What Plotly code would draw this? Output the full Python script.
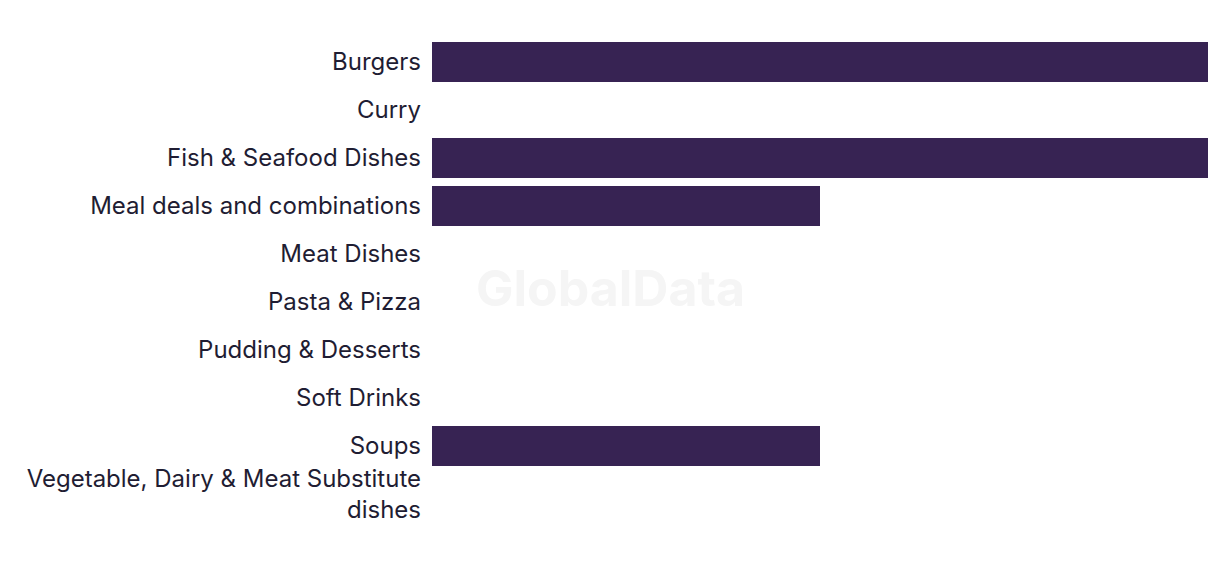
import plotly.graph_objects as go

categories = [
    "Burgers",
    "Curry",
    "Fish & Seafood Dishes",
    "Meal deals and combinations",
    "Meat Dishes",
    "Pasta & Pizza",
    "Pudding & Desserts",
    "Soft Drinks",
    "Soups",
    "Vegetable, Dairy & Meat Substitute<br>dishes",
]
values = [2, 0, 2, 1, 0, 0, 0, 0, 1, 0]

W, H = 1220, 574
ML, MR, MT, MB = 432, 12, 38, 56

fig = go.Figure(
    go.Bar(
        x=values,
        y=categories,
        orientation="h",
        marker=dict(color="#372353", line=dict(width=0)),
        hoverinfo="x+y",
    )
)

fig.update_layout(
    width=W,
    height=H,
    margin=dict(l=ML, r=MR, t=MT, b=MB, pad=0),
    paper_bgcolor="white",
    plot_bgcolor="white",
    bargap=1 - 40 / 48,
    showlegend=False,
    font=dict(family="Inter, Roboto, sans-serif", color="#1f1d33"),
    xaxis=dict(
        range=[0, 2],
        visible=False,
        showgrid=False,
        zeroline=False,
        fixedrange=True,
    ),
    yaxis=dict(
        autorange="reversed",
        showgrid=False,
        zeroline=False,
        showline=False,
        ticks="",
        ticklabelstandoff=10,
        tickfont=dict(size=24, color="#1f1d33", family="Inter, Roboto, sans-serif"),
        fixedrange=True,
    ),
    annotations=[
        dict(
            text="<b>GlobalData</b>",
            xref="paper",
            yref="paper",
            x=(610 - ML) / (W - ML - MR),
            y=(H - MB - 288) / (H - MT - MB),
            xanchor="center",
            yanchor="middle",
            showarrow=False,
            font=dict(size=50, color="#f5f5f5", family="Inter, Roboto, sans-serif"),
        )
    ],
)

fig.write_html("out.html")
